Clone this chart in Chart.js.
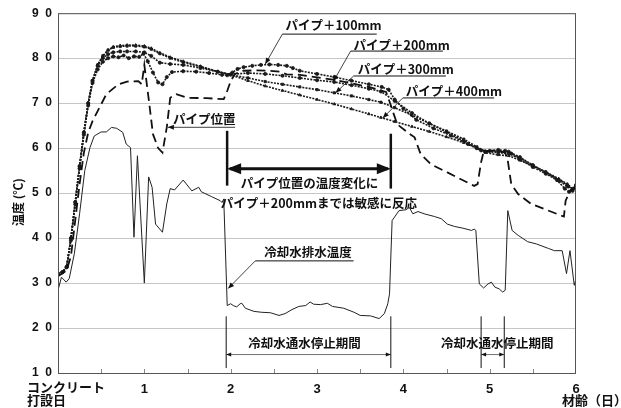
<!DOCTYPE html>
<html>
<head>
<meta charset="utf-8">
<script src="https://cdn.jsdelivr.net/npm/chart.js@4/dist/chart.umd.min.js"></script>
<style>
  html, body { margin: 0; background: #fff; }
  #wrap { width: 621px; height: 408px; }
</style>
</head>
<body>
<div id="wrap"><canvas id="chart"></canvas></div>
<script>
// age in days / temperature in degC
const drainX = [0, 0.04, 0.095, 0.13, 0.19, 0.25, 0.31, 0.37, 0.42, 0.50, 0.56, 0.62, 0.68, 0.75, 0.79, 0.84, 0.88, 0.92, 1.0, 1.05, 1.09, 1.13, 1.21, 1.26, 1.30, 1.35, 1.45, 1.55, 1.63, 1.66, 1.78, 1.88, 1.90, 1.92, 1.96, 2.0, 2.03, 2.07, 2.11, 2.13, 2.17, 2.27, 2.36, 2.46, 2.56, 2.63, 2.71, 2.79, 2.87, 2.92, 2.96, 3.04, 3.12, 3.18, 3.31, 3.43, 3.50, 3.62, 3.72, 3.78, 3.82, 3.84, 3.87, 3.95, 4.03, 4.07, 4.11, 4.17, 4.24, 4.36, 4.44, 4.51, 4.59, 4.69, 4.79, 4.82, 4.84, 4.88, 4.93, 4.98, 5.02, 5.06, 5.11, 5.15, 5.18, 5.21, 5.26, 5.33, 5.44, 5.54, 5.68, 5.75, 5.84, 5.89, 5.93, 5.98, 6.0];
const drainTemp = [28.4, 31.3, 30.2, 31.0, 36.6, 45.4, 55.0, 60.1, 62.7, 63.6, 63.6, 64.6, 64.4, 63.5, 60.9, 60.1, 40.2, 58.3, 30.0, 53.6, 51.3, 43.1, 41.3, 47.6, 51.0, 50.7, 52.9, 50.5, 51.3, 50.3, 49.2, 48.3, 47.9, 48.7, 25.0, 25.4, 25.0, 24.7, 25.4, 25.5, 24.4, 23.7, 23.5, 23.4, 22.8, 23.2, 24.1, 24.8, 25.0, 25.8, 25.3, 25.2, 25.5, 24.8, 24.4, 23.5, 22.8, 22.7, 22.1, 23.2, 25.4, 27.6, 43.9, 46.1, 46.3, 46.8, 45.4, 45.9, 45.4, 44.8, 44.3, 43.1, 42.6, 42.2, 41.7, 42.0, 41.7, 29.8, 28.9, 29.8, 30.2, 29.1, 28.7, 28.0, 28.4, 46.1, 41.7, 40.6, 39.2, 38.7, 37.7, 37.2, 37.2, 32.1, 37.2, 29.5, 31.0];

const pipeX = [0, 0.1, 0.15, 0.2, 0.25, 0.3, 0.35, 0.4, 0.48, 0.56, 0.7, 0.8, 0.93, 0.97, 1.0, 1.05, 1.1, 1.16, 1.21, 1.26, 1.3, 1.37, 1.5, 1.72, 1.92, 1.96, 2.0, 2.05, 2.15, 2.3, 2.45, 2.57, 2.65, 2.8, 3.2, 3.6, 3.8, 3.85, 3.89, 3.93, 4.05, 4.13, 4.2, 4.32, 4.51, 4.82, 4.86, 4.9, 4.93, 5.05, 5.18, 5.21, 5.25, 5.33, 5.48, 5.83, 5.86, 5.88, 5.93, 6.0];
const pipeTemp = [31.5, 32.8, 36, 44, 52, 59, 63.5, 66, 69, 72, 74.2, 74.8, 74.9, 74.2, 78.5, 71, 63.1, 60, 59.0, 64.6, 71.2, 72.0, 71.2, 71.1, 70.9, 72.7, 74.9, 76.5, 77.2, 77.3, 77.2, 77.0, 76.4, 76.3, 75.2, 73.6, 72.5, 69.8, 67.5, 65.3, 63.5, 62.4, 58.7, 56.4, 54.6, 51.6, 52.0, 56.8, 59.2, 59.5, 59.0, 57.2, 52.0, 49.8, 47.6, 45.0, 44.8, 48.3, 50.5, 51.3];

const p100X = [0, 0.05, 0.1, 0.15, 0.2, 0.25, 0.3, 0.35, 0.4, 0.46, 0.52, 0.58, 0.64, 0.7, 0.76, 0.82, 0.88, 0.94, 0.99, 1.04, 1.1, 1.16, 1.21, 1.26, 1.32, 1.45, 1.6, 1.75, 1.9, 1.96, 2.02, 2.08, 2.15, 2.25, 2.35, 2.45, 2.55, 2.65, 2.72, 2.8, 3.0, 3.2, 3.4, 3.6, 3.75, 3.83, 3.9, 4.0, 4.15, 4.35, 4.55, 4.75, 4.9, 5.0, 5.1, 5.18, 5.25, 5.35, 5.5, 5.65, 5.78, 5.87, 5.92, 5.97, 6.0];
const p100Temp = [32, 32.4, 33.5, 39.5, 47.5, 55.5, 63, 69.5, 74.5, 77.5, 79.2, 80, 80.4, 80.2, 80.6, 80.0, 80.4, 80.3, 81.0, 79.3, 76.8, 74.6, 74.2, 75.8, 76.9, 77.1, 77.0, 76.7, 76.3, 76.2, 76.8, 77.6, 78.0, 78.3, 78.5, 78.6, 78.5, 78.3, 77.8, 77.2, 76.5, 75.8, 75.0, 74.2, 73.6, 73.0, 70.8, 68.8, 66.3, 64.4, 62.8, 60.9, 59.5, 59.4, 59.6, 59.4, 58.8, 57.5, 55.8, 54.3, 52.9, 51.0, 50.3, 51.0, 51.8];

const farX = [0, 0.05, 0.1, 0.15, 0.2, 0.25, 0.3, 0.35, 0.4, 0.46, 0.52, 0.58, 0.64, 0.72, 0.8, 0.9, 1.0, 1.08, 1.18, 1.3, 1.45, 1.65, 1.85, 2.0, 2.2, 2.4, 2.6, 2.8, 3.0, 3.2, 3.4, 3.6, 3.74, 3.9, 4.1, 4.3, 4.5, 4.7, 4.85, 4.95, 5.1, 5.22, 5.35, 5.5, 5.65, 5.8, 5.9, 5.96, 6.0];
const p200Temp = [32, 32.4, 33.6, 40, 48, 56, 63.5, 70, 75, 78.3, 80, 80.9, 81.3, 81.5, 81.5, 81.5, 81.3, 80.5, 79.0, 78.7, 78.5, 77.8, 77, 76.4, 76.7, 76.5, 76.1, 75.6, 75.1, 74.7, 74.0, 73.2, 72.6, 70.5, 67.8, 65.5, 63.6, 61.6, 60.0, 59.2, 59.3, 59.2, 58, 56.2, 54.5, 52.8, 51.5, 50.5, 51.6];
const p300Temp = [32, 32.4, 33.6, 40, 48, 56, 63.5, 70, 75, 78.5, 80.5, 81.8, 82.4, 82.6, 82.7, 82.7, 82.5, 82.0, 81.0, 80.0, 79.1, 78.1, 77, 76.3, 75.6, 74.8, 74.2, 73.6, 73.0, 72.3, 71.6, 70.8, 70.2, 69.0, 67.3, 65.5, 63.8, 62.0, 60.3, 59.3, 59.0, 58.8, 57.8, 56.2, 54.7, 53.0, 51.8, 50.8, 51.5];
const p400Temp = [32, 32.4, 33.6, 40, 48, 56, 63.5, 70, 75, 78.5, 80.5, 81.8, 82.5, 82.8, 82.9, 82.9, 82.7, 82.2, 81.2, 80.2, 79.3, 78.2, 77, 76.3, 75, 73.8, 72.8, 71.8, 70.8, 69.8, 68.7, 67.6, 66.8, 65.9, 64.8, 63.7, 62.5, 61.2, 60, 59, 58.5, 58.3, 57.3, 56, 54.7, 53.2, 52, 51, 51.5];

const yTicks = [10, 20, 30, 40, 50, 60, 70, 80, 90];
const xTicks = [0, 1, 2, 3, 4, 5, 6];

const JP = '"Noto Sans CJK JP", sans-serif';
const pts = (xs, ys) => xs.map((v, i) => ({ x: v, y: ys[i] }));

function arrowHead(ctx, x1, y1, x2, y2, len, half) {
  const a = Math.atan2(y2 - y1, x2 - x1);
  ctx.beginPath();
  ctx.moveTo(x2, y2);
  ctx.lineTo(x2 - len * Math.cos(a) + half * Math.sin(a), y2 - len * Math.sin(a) - half * Math.cos(a));
  ctx.lineTo(x2 - len * Math.cos(a) - half * Math.sin(a), y2 - len * Math.sin(a) + half * Math.cos(a));
  ctx.closePath();
  ctx.fill();
}

const notes = {
  id: 'notes',
  afterDatasetsDraw(chart) {
    const { ctx, chartArea: a, scales: { x, y } } = chart;
    const X = v => x.getPixelForValue(v), Y = v => y.getPixelForValue(v);
    ctx.save();
    ctx.fillStyle = '#111';
    ctx.strokeStyle = '#111';

    // frame + small ticks along the bottom
    ctx.lineWidth = 1;
    ctx.strokeStyle = '#555';
    ctx.strokeRect(a.left + 0.5, a.top + 0.5, a.right - a.left - 1, a.bottom - a.top);
    ctx.strokeStyle = '#888';
    for (let d = 0.5; d < 6; d += 0.5) {
      ctx.beginPath();
      ctx.moveTo(Math.round(X(d)) + 0.5, a.bottom);
      ctx.lineTo(Math.round(X(d)) + 0.5, a.bottom - 4);
      ctx.stroke();
    }
    ctx.strokeStyle = '#111';

    const text = (s, xd, yd, align, size) => {
      ctx.font = 'bold ' + (size || 12.5) + 'px ' + JP;
      ctx.textAlign = align || 'left';
      ctx.textBaseline = 'middle';
      ctx.fillText(s, X(xd), Y(yd));
    };
    const line = (x1, y1, x2, y2, w) => {
      ctx.lineWidth = w || 1;
      ctx.beginPath();
      ctx.moveTo(X(x1), Y(y1));
      ctx.lineTo(X(x2), Y(y2));
      ctx.stroke();
    };
    const pointer = (x1, y1, x2, y2) => {
      line(x1, y1, x2, y2, 0.8);
      arrowHead(ctx, X(x1), Y(y1), X(x2), Y(y2), 6, 2.5);
    };

    // sensor labels
    text('パイプ＋100mm', 2.634, 87.3);
    line(2.599, 85.35, 3.692, 85.35);
    pointer(2.599, 85.35, 2.401, 78.7);

    text('パイプ＋200mm', 3.424, 82.9);
    line(3.39, 81.58, 4.459, 81.58);
    pointer(3.39, 81.58, 3.192, 74.9);

    text('パイプ＋300mm', 3.471, 77.6);
    line(3.424, 76.04, 4.494, 76.04);
    pointer(3.424, 76.04, 3.215, 72.3);

    text('パイプ＋400mm', 4.029, 72.6);
    line(3.994, 71.16, 5.052, 71.16);
    pointer(3.994, 71.16, 3.762, 66.7);

    text('パイプ位置', 1.331, 66.5);
    pointer(2.052, 64.63, 1.273, 64.63);

    // thick bracket: sensitive response period
    line(1.959, 63.85, 1.959, 51.66, 2.5);
    line(3.855, 63.2, 3.855, 51.0, 2.5);
    line(1.99, 55.43, 3.82, 55.43, 3);
    arrowHead(ctx, X(3.0), Y(55.43), X(1.959), Y(55.43), 14, 5.5);
    arrowHead(ctx, X(3.0), Y(55.43), X(3.855), Y(55.43), 14, 5.5);
    text('パイプ位置の温度変化に', 2.913, 52.3, 'center', 12.5);
    text('パイプ＋200mmまでは敏感に反応', 3.023, 47.7, 'center', 12.5);

    text('冷却水排水温度', 2.895, 36.8, 'center');
    line(2.285, 34.93, 3.424, 34.93);
    pointer(2.285, 34.93, 1.971, 28.8);

    // cooling-water stop periods
    const period = (x1, x2, tx) => {
      line(x1, 22.6, x1, 11.1, 1);
      line(x2, 22.6, x2, 11.1, 1);
      line(x1, 14.1, x2, 14.1, 0.6);
      arrowHead(ctx, X(x2), Y(14.1), X(x1), Y(14.1), 5, 2);
      arrowHead(ctx, X(x1), Y(14.1), X(x2), Y(14.1), 5, 2);
      text('冷却水通水停止期間', tx, 16.65, 'center');
    };
    period(1.948, 3.855, 2.855);
    period(4.901, 5.169, 5.087);

    // axis words
    ctx.font = 'bold 13px ' + JP;
    ctx.textAlign = 'left';
    ctx.textBaseline = 'middle';
    ctx.fillText('コンクリート', 27, 387);
    ctx.fillText('打設日', 27, 400);
    ctx.fillText('材齢（日）', 562, 400);

    ctx.translate(18, 202);
    ctx.rotate(-Math.PI / 2);
    ctx.font = 'bold 12px ' + JP;
    ctx.textAlign = 'center';
    ctx.fillText('温度 (℃)', 0, 0);
    ctx.restore();
  }
};

const markerSet = (label, xs, ys, style) => ({
  label,
  data: pts(xs, ys),
  borderColor: '#1a1a1a',
  borderWidth: 1.6,
  borderDash: [2, 1.2],
  pointStyle: style,
  pointRadius: 1.6,
  pointBorderWidth: 0.8,
  pointBackgroundColor: '#1a1a1a',
  pointBorderColor: '#1a1a1a'
});

new Chart(document.getElementById('chart'), {
  type: 'line',
  data: {
    datasets: [
      { label: '冷却水排水温度', data: pts(drainX, drainTemp), borderColor: '#222', borderWidth: 1, pointRadius: 0 },
      { label: 'パイプ位置', data: pts(pipeX, pipeTemp), borderColor: '#111', borderWidth: 1.8, borderDash: [9, 5], pointRadius: 0 },
      markerSet('パイプ＋400mm', farX, p400Temp, 'triangle'),
      markerSet('パイプ＋300mm', farX, p300Temp, 'rect'),
      markerSet('パイプ＋200mm', farX, p200Temp, 'circle'),
      markerSet('パイプ＋100mm', p100X, p100Temp, 'circle')
    ]
  },
  options: {
    responsive: true,
    maintainAspectRatio: false,
    animation: false,
    layout: { padding: { top: 12, right: 45, left: 0, bottom: 0 } },
    plugins: { legend: { display: false }, tooltip: { enabled: false } },
    scales: {
      x: {
        type: 'linear', min: 0, max: 6,
        afterFit: s => { s.height = 35; },
        afterBuildTicks: s => { s.ticks = xTicks.map(v => ({ value: v })); },
        grid: { display: false, drawTicks: false },
        border: { display: false },
        ticks: {
          padding: 9, color: '#111', maxRotation: 0, autoSkip: false,
          font: { size: 13, weight: 'bold', family: '"Liberation Sans", Arial, sans-serif' },
          callback: v => v === 0 ? '' : String(v)
        }
      },
      y: {
        min: 10, max: 90,
        afterFit: s => { s.width = 58; },
        afterBuildTicks: s => { s.ticks = yTicks.map(v => ({ value: v })); },
        grid: { color: '#c6c6c6', lineWidth: 1, drawTicks: false },
        border: { display: false },
        ticks: {
          padding: 6, color: '#111',
          font: { size: 12, weight: 'bold', family: '"Liberation Sans", Arial, sans-serif' },
          callback: v => String(v).split('').join('  ')
        }
      }
    }
  },
  plugins: [notes]
});
</script>
</body>
</html>
